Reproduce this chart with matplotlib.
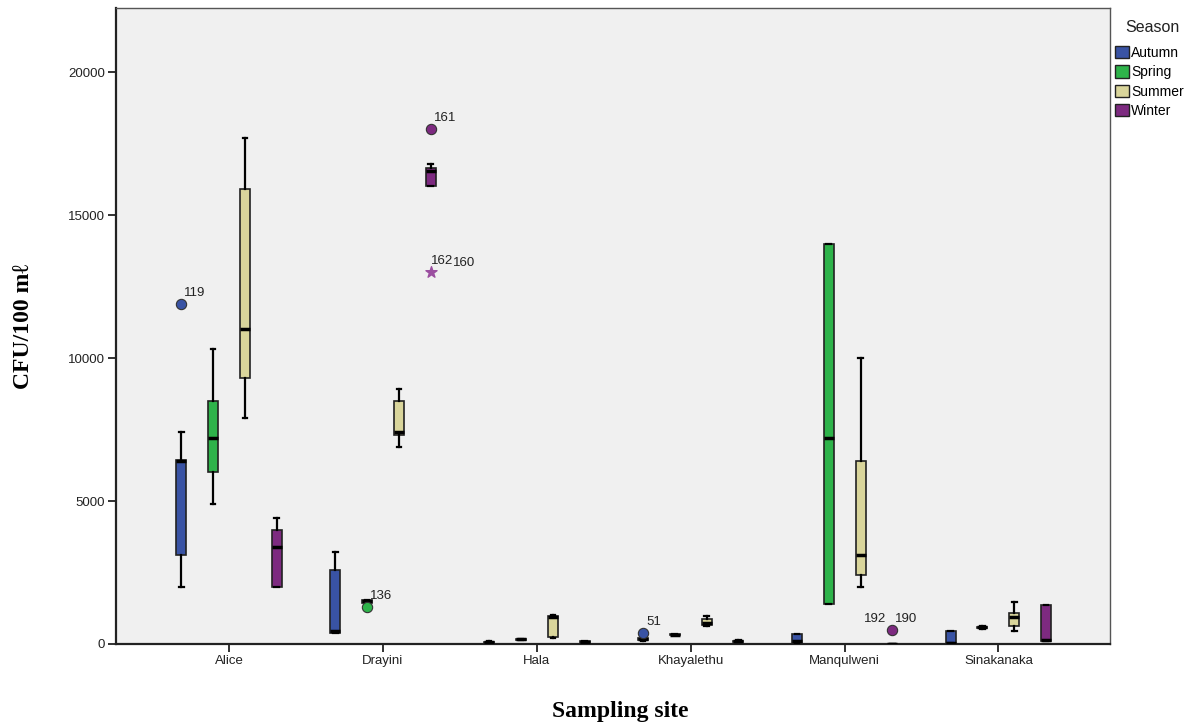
import numpy as np
import matplotlib.pyplot as plt
from matplotlib.patches import Patch

# sites and seasons
sites = ["Alice", "Drayini", "Hala", "Khayalethu", "Manqulweni", "Sinakanaka"]
seasons = ["Autumn", "Spring", "Summer", "Winter"]
colors = ["#3953a4", "#2eb34a", "#d9d59b", "#7d2a80"]

# box stats per site: [whislo, q1, med, q3, whishi]
autumn = [[2000, 3100, 6400, 6450, 7400],
          [400, 400, 450, 2600, 3200],
          [30, 40, 60, 80, 100],
          [120, 130, 160, 200, 220],
          [50, 50, 100, 350, 350],
          [20, 20, 50, 450, 450]]
spring = [[4900, 6000, 7200, 8500, 10300],
          [1450, 1450, 1500, 1550, 1550],
          [150, 150, 160, 170, 170],
          [310, 310, 330, 350, 350],
          [1400, 1400, 7200, 14000, 14000],
          [540, 550, 580, 610, 620]]
summer = [[7900, 9300, 11000, 15900, 17700],
          [6900, 7300, 7400, 8500, 8900],
          [220, 250, 950, 980, 1000],
          [630, 650, 750, 870, 990],
          [2000, 2400, 3100, 6400, 10000],
          [470, 630, 930, 1070, 1480]]
winter = [[2000, 2000, 3400, 4000, 4400],
          [16000, 16000, 16550, 16650, 16800],
          [40, 50, 70, 90, 110],
          [60, 70, 100, 120, 140],
          [0, 0, 0, 0, 0],
          [100, 100, 150, 1350, 1350]]
all_stats = [autumn, spring, summer, winter]

# outliers: (site, season, value, label)
outliers = [(0, 0, 11900, "119"),
            (1, 1, 1300, "136"),
            (1, 3, 18000, "161"),
            (3, 0, 380, "51"),
            (4, 3, 500, "190")]
# extreme values (star)
extremes = [(1, 3, 13000)]

offsets = [-0.31, -0.104, 0.104, 0.31]
bw = 0.065

fig = plt.figure(figsize=(11.92, 7.26), dpi=100)
ax = fig.add_axes([116 / 1192, 82 / 726, 994 / 1192, 636 / 726])
ax.set_facecolor("#f0f0f0")

for k in range(4):
    stats = []
    for s in all_stats[k]:
        stats.append(dict(whislo=s[0], q1=s[1], med=s[2], q3=s[3], whishi=s[4], fliers=[]))
    pos = np.arange(len(sites)) + offsets[k]
    ax.bxp(stats, positions=pos, widths=bw, patch_artist=True, showfliers=False,
           boxprops=dict(facecolor=colors[k], edgecolor="#222222", linewidth=1.2),
           medianprops=dict(color="black", linewidth=2.5),
           whiskerprops=dict(color="black", linewidth=1.6),
           capprops=dict(color="black", linewidth=1.6), capwidths=0.03,
           manage_ticks=False, zorder=3)

lab_font = dict(fontsize=9.5, color="#222222", family="Liberation Sans")
for si, k, v, lab in outliers:
    x = si + offsets[k]
    ax.scatter(x, v, s=55, color=colors[k], edgecolor="#333333", linewidth=0.8, zorder=4)
    ax.annotate(lab, (x, v), xytext=(3, 8), textcoords="offset pixels", **lab_font)
ax.annotate("192", (4 + offsets[3], 500), xytext=(-6, 8), textcoords="offset pixels",
            ha="right", **lab_font)

for si, k, v in extremes:
    x = si + offsets[k]
    ax.scatter(x, v, s=70, marker="*", color="#9b4fa0", zorder=4)
    ax.annotate("162", (x, v), xytext=(0, 8), textcoords="offset pixels", **lab_font)
    ax.annotate("160", (x, v), xytext=(22, 6), textcoords="offset pixels", **lab_font)

ax.set_xlim(-0.735, 5.725)
ax.set_ylim(0, 22240)
ax.set_xticks(range(len(sites)))
ax.set_xticklabels(sites, family="Liberation Sans", fontsize=9.5)
ax.set_yticks([0, 5000, 10000, 15000, 20000])
ax.set_yticklabels(["0", "5000", "10000", "15000", "20000"], family="Liberation Sans", fontsize=9.5)
ax.tick_params(direction="out", length=6, width=1.3, colors="#222222", pad=2)

for side in ["top", "right"]:
    ax.spines[side].set_color("#555555")
    ax.spines[side].set_linewidth(1.0)
for side in ["left", "bottom"]:
    ax.spines[side].set_color("#222222")
    ax.spines[side].set_linewidth(1.6)

fig.text(24 / 1192, 1 - 326 / 726, "CFU/100 m\u2113", family=["Liberation Serif", "DejaVu Serif"],
         fontweight="bold", fontsize=17, rotation=90, ha="center", va="center")
fig.text(620 / 1192, 1 - 711 / 726, "Sampling site", family="Liberation Serif",
         fontweight="bold", fontsize=17, ha="center", va="center")

# legend
fig.text(1152 / 1192, 1 - 28 / 726, "Season", family="Liberation Sans", fontsize=11.5,
         ha="center", va="center", color="#222222")
handles = [Patch(facecolor=c, edgecolor="#222222", label=s) for c, s in zip(colors, seasons)]
ax.legend(handles=handles, loc="upper left", bbox_to_anchor=(1115 / 1192, 1 - 46 / 726),
          bbox_transform=fig.transFigure, frameon=False, handlelength=1.0, handleheight=1.0,
          handletextpad=0.15, labelspacing=0.38, borderaxespad=0, borderpad=0,
          prop=dict(family="Liberation Sans", size=10))

fig.savefig("out.png", dpi=100)
